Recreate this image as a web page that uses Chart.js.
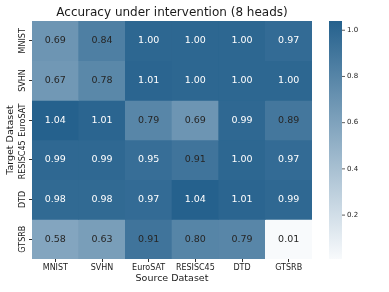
<!DOCTYPE html>
<html>
<head>
<meta charset="utf-8">
<script src="https://cdn.jsdelivr.net/npm/chart.js@4"></script>
<style>
  html, body { margin: 0; padding: 0; background: #fff; }
  #wrap { width: 389px; height: 292px; }
</style>
</head>
<body>
<div id="wrap"><canvas id="heat"></canvas></div>
<script>
// heatmap data: rows = target dataset, cols = source dataset
const sources = ["MNIST", "SVHN", "EuroSAT", "RESISC45", "DTD", "GTSRB"];
const targets = ["MNIST", "SVHN", "EuroSAT", "RESISC45", "DTD", "GTSRB"];
const accMNIST    = [0.69, 0.84, 1.00, 1.00, 1.00, 0.97];
const accSVHN     = [0.67, 0.78, 1.01, 1.00, 1.00, 1.00];
const accEuroSAT  = [1.04, 1.01, 0.79, 0.69, 0.99, 0.89];
const accRESISC45 = [0.99, 0.99, 0.95, 0.91, 1.00, 0.97];
const accDTD      = [0.98, 0.98, 0.97, 1.04, 1.01, 0.99];
const accGTSRB    = [0.58, 0.63, 0.91, 0.80, 0.79, 0.01];
const rows = [accMNIST, accSVHN, accEuroSAT, accRESISC45, accDTD, accGTSRB];
const cbTicks = [0.2, 0.4, 0.6, 0.8, 1.0];
const vmin = 0.01, vmax = 1.04;

const FONT = "DejaVu Sans";
const light = [248, 250, 252], dark = [37, 97, 141];

function rgbFor(v) {
  let t = (v - vmin) / (vmax - vmin);
  t = Math.max(0, Math.min(1, t));
  return light.map((c, i) => Math.round(c + (dark[i] - c) * t));
}
function colorFor(v) {
  const c = rgbFor(v);
  return "rgb(" + c.join(",") + ")";
}
function textFor(v) {
  const c = rgbFor(v).map(x => x / 255);
  const lum = 0.2126 * c[0] + 0.7152 * c[1] + 0.0722 * c[2];
  return lum < 0.408 ? "#ffffff" : "#262626";
}

// each target row is one dataset of floating bars spanning [r, r+1]
const datasets = rows.map((vals, r) => ({
  label: targets[r],
  data: vals.map(() => [r, r + 1]),
  values: vals,
  backgroundColor: vals.map(colorFor),
  borderWidth: 0,
  grouped: false,
  barPercentage: 1,
  categoryPercentage: 1
}));

// text + colorbar drawn on top of the bars
const decor = {
  id: "decor",
  afterDatasetsDraw(chart) {
    const ctx = chart.ctx;
    const area = chart.chartArea;
    const y = chart.scales.y;
    const cb = chart.scales.cb;
    ctx.save();

    // cell annotations
    ctx.textAlign = "center";
    ctx.textBaseline = "middle";
    ctx.font = "9.5px '" + FONT + "'";
    chart.data.datasets.forEach((ds, r) => {
      chart.getDatasetMeta(r).data.forEach((bar, c) => {
        const v = ds.values[c];
        ctx.fillStyle = textFor(v);
        ctx.fillText(v.toFixed(2), bar.x, (bar.y + bar.base) / 2);
      });
    });

    // title
    ctx.fillStyle = "#1a1a1a";
    ctx.font = "12px '" + FONT + "'";
    ctx.fillText("Accuracy under intervention (8 heads)", (area.left + area.right) / 2, 12.5);

    // x axis title
    ctx.font = "9.5px '" + FONT + "'";
    ctx.fillText("Source Dataset", (area.left + area.right) / 2, 278.5);

    // y tick labels (rotated)
    ctx.font = "8px '" + FONT + "'";
    targets.forEach((t, i) => {
      ctx.save();
      ctx.translate(23, y.getPixelForValue(i + 0.5));
      ctx.rotate(-Math.PI / 2);
      ctx.fillText(t, 0, 0);
      ctx.restore();
    });

    // y axis title
    ctx.save();
    ctx.font = "9.5px '" + FONT + "'";
    ctx.translate(10.5, (area.top + area.bottom) / 2);
    ctx.rotate(-Math.PI / 2);
    ctx.fillText("Target Dataset", 0, 0);
    ctx.restore();

    // colorbar
    const cbL = 329, cbR = 342;
    const top = cb.getPixelForValue(vmax), bot = cb.getPixelForValue(vmin);
    const grad = ctx.createLinearGradient(0, bot, 0, top);
    grad.addColorStop(0, colorFor(vmin));
    grad.addColorStop(1, colorFor(vmax));
    ctx.fillStyle = grad;
    ctx.fillRect(cbL, top, cbR - cbL, bot - top);

    ctx.strokeStyle = "#333";
    ctx.lineWidth = 0.8;
    ctx.fillStyle = "#1a1a1a";
    ctx.font = "7px '" + FONT + "'";
    ctx.textAlign = "left";
    cbTicks.forEach(v => {
      const py = cb.getPixelForValue(v);
      ctx.beginPath();
      ctx.moveTo(cbR, py);
      ctx.lineTo(cbR + 3, py);
      ctx.stroke();
      ctx.fillText(v.toFixed(1), cbR + 5, py);
    });

    ctx.restore();
  }
};

new Chart(document.getElementById("heat"), {
  type: "bar",
  data: { labels: sources, datasets: datasets },
  options: {
    responsive: true,
    maintainAspectRatio: false,
    animation: false,
    layout: { padding: { top: 21, right: 77, left: 0, bottom: 0 } },
    plugins: { legend: { display: false }, tooltip: { enabled: false } },
    scales: {
      x: {
        grid: { display: true, offset: false, drawOnChartArea: false, drawTicks: true, tickLength: 3, color: "#333" },
        border: { display: false },
        ticks: { color: "#1a1a1a", font: { family: FONT, size: 8 }, padding: 1, maxRotation: 0 },
        afterFit(s) { s.height = 33; }
      },
      y: {
        type: "linear",
        min: 0, max: 6,
        reverse: true,
        grid: { display: true, drawOnChartArea: false, drawTicks: true, tickLength: 3, color: "#333" },
        border: { display: false },
        ticks: { display: false },
        afterBuildTicks(s) { s.ticks = targets.map((t, i) => ({ value: i + 0.5 })); },
        afterFit(s) { s.width = 32; }
      },
      cb: {
        type: "linear",
        display: false,
        position: "right",
        min: vmin, max: vmax
      }
    }
  },
  plugins: [decor]
});
</script>
</body>
</html>
